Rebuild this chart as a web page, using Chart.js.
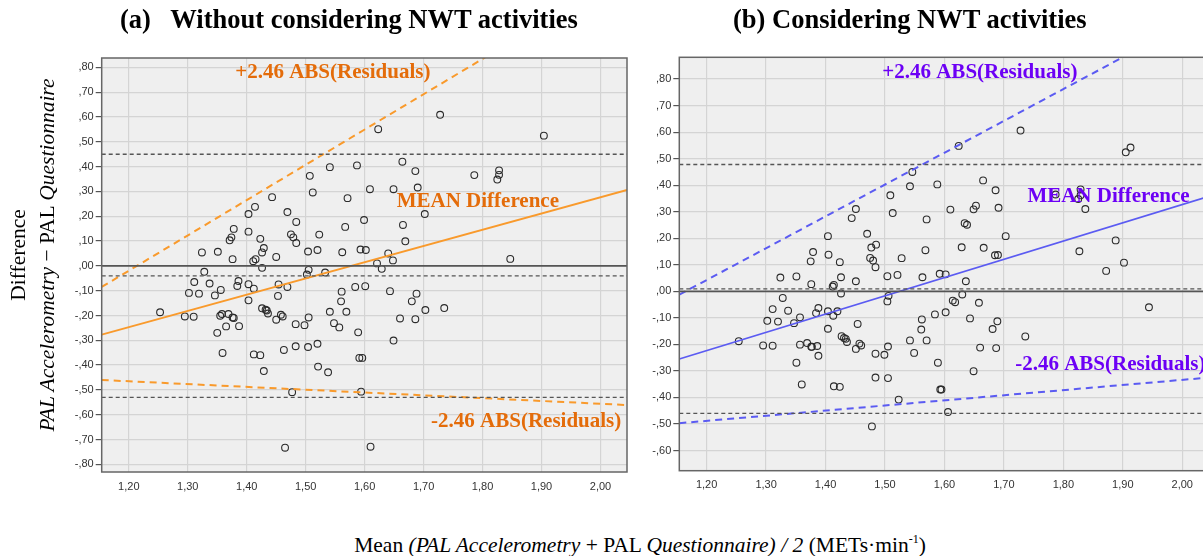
<!DOCTYPE html>
<html>
<head>
<meta charset="utf-8">
<script src="https://cdn.jsdelivr.net/npm/chart.js@4.4.0/dist/chart.umd.min.js"></script>
<style>
  html, body { margin: 0; padding: 0; background: #fff; }
  #page { position: relative; width: 1203px; height: 556px; overflow: hidden; font-family: "Liberation Serif", "Times New Roman", serif; color: #000; }
  .panel { position: absolute; top: 0; }
  .title { position: absolute; top: 4px; font-weight: bold; font-size: 26.5px; white-space: pre; }
  .ytitle { position: absolute; white-space: nowrap; transform: translate(-50%, -50%) rotate(-90deg); font-size: 21.5px; }
  .xtitle { position: absolute; left: 640px; top: 545px; transform: translate(-50%, -50%); white-space: nowrap; font-size: 21.5px; }
</style>
</head>
<body>
<div id="page">
  <div class="panel" style="left:0;width:640px;height:500px"><canvas id="chartA" width="640" height="500"></canvas></div>
  <div class="panel" style="left:640px;width:590px;height:500px"><canvas id="chartB" width="590" height="500"></canvas></div>
  <div class="title" style="left:120px">(a)   Without considering NWT activities</div>
  <div class="title" style="left:733px">(b) Considering NWT activities</div>
  <div class="ytitle" style="left:18px;top:255px">Difference</div>
  <div class="ytitle" style="left:47px;top:255px"><i>PAL Accelerometry</i> − PAL <i>Questionnaire</i></div>
  <div class="xtitle">Mean <i>(PAL Accelerometry</i> + PAL <i>Questionnaire) / 2</i> (METs·min<sup style="font-size:12px">-1</sup>)</div>
</div>
<script>
// (a) without NWT activities: mean of the two methods vs. their difference
const meanA = [1.324, 1.351, 1.328, 1.311, 1.337, 1.302, 1.319, 1.376, 1.371, 1.374, 1.378, 1.403, 1.414, 1.403, 1.423, 1.429, 1.426, 1.415, 1.411, 1.426,
  1.443, 1.450, 1.469, 1.475, 1.479, 1.484, 1.484, 1.507, 1.512, 1.504, 1.520, 1.523, 1.505, 1.502, 1.386, 1.384, 1.403, 1.412, 1.454, 1.469,
  1.453, 1.253, 1.295, 1.310, 1.346, 1.356, 1.355, 1.358, 1.369, 1.376, 1.378, 1.350, 1.365, 1.387, 1.359, 1.403, 1.412, 1.423, 1.429, 1.426,
  1.432, 1.434, 1.436, 1.450, 1.458, 1.461, 1.463, 1.483, 1.483, 1.498, 1.505, 1.504, 1.520, 1.521, 1.477, 1.465, 1.728, 1.623, 1.904, 1.541,
  1.587, 1.664, 1.686, 1.571, 1.609, 1.649, 1.690, 1.786, 1.828, 1.828, 1.825, 1.702, 1.599, 1.665, 1.567, 1.669, 1.562, 1.593, 1.602, 1.640,
  1.648, 1.621, 1.629, 1.847, 1.533, 1.561, 1.584, 1.601, 1.643, 1.688, 1.560, 1.680, 1.541, 1.569, 1.703, 1.735, 1.548, 1.557, 1.660, 1.686,
  1.589, 1.649, 1.591, 1.596, 1.538, 1.594, 1.610];
const diffA = [0.054, 0.057, -0.024, -0.065, -0.071, -0.109, -0.112, 0.027, 0.103, 0.115, 0.149, 0.209, 0.238, 0.138, 0.109, 0.072, 0.054, 0.027, 0.019, -0.008,
  0.277, 0.036, 0.217, 0.127, 0.115, 0.092, 0.177, 0.363, 0.296, 0.058, 0.064, 0.126, -0.016, -0.035, -0.061, -0.081, -0.074, -0.092, -0.075, -0.085,
  -0.121, -0.187, -0.204, -0.205, -0.119, -0.097, -0.201, -0.194, -0.194, -0.208, -0.210, -0.270, -0.244, -0.243, -0.351, -0.139, -0.357, -0.360, -0.424, -0.171,
  -0.177, -0.180, -0.192, -0.217, -0.197, -0.204, -0.339, -0.235, -0.324, -0.239, -0.208, -0.327, -0.314, -0.406, -0.509, -0.733, 0.609, 0.551, 0.525, 0.398,
  0.405, 0.420, 0.382, 0.273, 0.309, 0.309, 0.316, 0.366, 0.385, 0.367, 0.348, 0.209, 0.185, 0.165, 0.157, 0.099, 0.055, 0.066, 0.064, 0.050,
  0.022, 0.010, -0.012, 0.028, -0.027, -0.104, -0.085, -0.082, -0.102, -0.112, -0.143, -0.143, -0.185, -0.185, -0.178, -0.170, -0.231, -0.248, -0.212, -0.215,
  -0.268, -0.301, -0.371, -0.371, -0.429, -0.507, -0.729];

// (b) considering NWT activities
const meanB = [1.324, 1.351, 1.376, 1.375, 1.379, 1.404, 1.405, 1.424, 1.426, 1.414, 1.412, 1.426, 1.451, 1.444, 1.451, 1.470, 1.477, 1.485, 1.475, 1.480,
  1.484, 1.504, 1.509, 1.513, 1.521, 1.528, 1.506, 1.542, 1.546, 1.570, 1.568, 1.563, 1.588, 1.592, 1.624, 1.728, 1.905, 1.913, 1.665, 1.686,
  1.649, 1.653, 1.610, 1.691, 1.634, 1.638, 1.787, 1.829, 1.825, 1.829, 1.837, 1.703, 1.629, 1.666, 1.685, 1.690, 1.602, 1.636, 1.630, 1.827,
  1.888, 1.902, 1.872, 1.254, 1.295, 1.311, 1.302, 1.320, 1.311, 1.328, 1.337, 1.347, 1.357, 1.357, 1.351, 1.360, 1.369, 1.376, 1.377, 1.386,
  1.388, 1.384, 1.388, 1.404, 1.404, 1.413, 1.420, 1.414, 1.424, 1.427, 1.431, 1.434, 1.436, 1.451, 1.454, 1.457, 1.460, 1.484, 1.484, 1.478,
  1.499, 1.505, 1.505, 1.504, 1.523, 1.542, 1.549, 1.562, 1.561, 1.570, 1.584, 1.589, 1.593, 1.595, 1.614, 1.618, 1.658, 1.602, 1.643, 1.689,
  1.681, 1.736, 1.660, 1.687, 1.649, 1.606, 1.944];
const diffB = [0.052, 0.056, 0.027, 0.113, 0.148, 0.208, 0.138, 0.110, 0.053, 0.024, 0.018, -0.008, 0.038, 0.276, 0.310, 0.217, 0.165, 0.176, 0.126, 0.116,
  0.091, 0.057, 0.362, 0.295, 0.062, 0.125, -0.017, 0.396, 0.450, 0.271, 0.155, 0.053, 0.403, 0.066, 0.548, 0.606, 0.524, 0.542, 0.418, 0.381,
  0.309, 0.323, 0.308, 0.315, 0.257, 0.251, 0.365, 0.384, 0.348, 0.362, 0.310, 0.208, 0.166, 0.164, 0.136, 0.137, 0.064, 0.038, -0.012, 0.151,
  0.192, 0.108, 0.077, -0.188, -0.204, -0.205, -0.111, -0.114, -0.067, -0.025, -0.073, -0.120, -0.098, -0.201, -0.269, -0.351, -0.195, -0.209, -0.209, -0.206,
  -0.243, -0.082, -0.063, -0.075, -0.141, -0.092, -0.075, -0.358, -0.360, -0.169, -0.176, -0.179, -0.191, -0.217, -0.123, -0.197, -0.204, -0.235, -0.325, -0.509,
  -0.239, -0.208, -0.327, -0.038, -0.408, -0.185, -0.232, -0.106, -0.144, -0.185, -0.087, -0.269, -0.370, -0.370, -0.035, -0.041, -0.043, -0.079, -0.102, -0.113,
  -0.142, -0.170, -0.212, -0.214, -0.301, -0.455, -0.060];

// axis ticks
const xTicks = [1.2, 1.3, 1.4, 1.5, 1.6, 1.7, 1.8, 1.9, 2.0];
const yTicksA = [-0.8, -0.7, -0.6, -0.5, -0.4, -0.3, -0.2, -0.1, 0, 0.1, 0.2, 0.3, 0.4, 0.5, 0.6, 0.7, 0.8];
const yTicksB = [-0.6, -0.5, -0.4, -0.3, -0.2, -0.1, 0, 0.1, 0.2, 0.3, 0.4, 0.5, 0.6, 0.7, 0.8];
const xRange = [1.154, 2.045];

// fitted lines, values at both ends of xRange
const meanLineA = [-0.277, 0.306];
const upperLimitA = [-0.085, 1.183];
const lowerLimitA = [-0.460, -0.561];
const meanLineB = [-0.255, 0.358];
const upperLimitB = [-0.0125, 1.056];
const lowerLimitB = [-0.497, -0.325];

// horizontal reference lines (mean and ±1.96 SD of the differences)
const refLinesA = [0.45, -0.04, -0.53];
const refLinesB = [0.478, 0.009, -0.46];

const fmt = (v) => {
  let s = (Math.round(v * 100) / 100 + 0).toFixed(2);
  if (s.startsWith("-0.")) s = "-" + s.slice(2);
  else if (s.startsWith("0.")) s = s.slice(1);
  return s.replace(".", ",");
};

const panelBg = {
  id: "panelBg",
  beforeDraw(chart) {
    const { ctx, chartArea: a } = chart;
    ctx.save();
    ctx.fillStyle = "#efefef";
    ctx.fillRect(a.left, a.top, a.right - a.left, a.bottom - a.top);
    ctx.restore();
  },
  afterDraw(chart) {
    const { ctx, chartArea: a } = chart;
    ctx.save();
    ctx.strokeStyle = "#666";
    ctx.lineWidth = 1.5;
    ctx.strokeRect(a.left, a.top, a.right - a.left, a.bottom - a.top);
    ctx.restore();
  },
};

const textLabels = {
  id: "textLabels",
  afterDatasetsDraw(chart, args, opts) {
    const { ctx, scales } = chart;
    ctx.save();
    ctx.font = "bold 21px 'Liberation Serif', 'Times New Roman', serif";
    ctx.fillStyle = opts.color;
    ctx.textBaseline = "alphabetic";
    (opts.items || []).forEach((t) => {
      ctx.textAlign = t.align || "center";
      ctx.fillText(t.text, scales.x.getPixelForValue(t.x), scales.y.getPixelForValue(t.y));
    });
    ctx.restore();
  },
};

function lineSet(yEnds, color, width, dash) {
  return {
    type: "line",
    data: [{ x: xRange[0], y: yEnds[0] }, { x: xRange[1], y: yEnds[1] }],
    borderColor: color,
    borderWidth: width,
    borderDash: dash,
    pointRadius: 0,
    fill: false,
  };
}

function makeChart(id, p) {
  const points = p.mean.map((m, i) => ({ x: m, y: p.diff[i] }));
  const datasets = [
    lineSet([0, 0], "#555", 1.6, []),
    ...p.refs.map((r) => lineSet([r, r], "#555", 1.3, [4, 3])),
    lineSet(p.meanLine, p.lineColor, 1.8, []),
    lineSet(p.upper, p.lineColor, 2, [7, 5]),
    lineSet(p.lower, p.lineColor, 2, [7, 5]),
    {
      type: "scatter",
      data: points,
      pointRadius: 3.4,
      pointBorderWidth: 1.1,
      borderColor: "#2b2b2b",
      backgroundColor: "rgba(0,0,0,0)",
    },
  ];

  return new Chart(document.getElementById(id).getContext("2d"), {
    type: "scatter",
    data: { datasets },
    options: {
      responsive: false,
      animation: false,
      events: [],
      layout: { padding: p.padding },
      plugins: {
        legend: { display: false },
        tooltip: { enabled: false },
        textLabels: { color: p.textColor, items: p.labels },
      },
      scales: {
        x: {
          type: "linear",
          min: xRange[0],
          max: xRange[1],
          afterBuildTicks: (axis) => { axis.ticks = xTicks.map((v) => ({ value: v })); },
          afterFit: (scale) => { scale.height = 28; },
          ticks: { callback: fmt, color: "#333", font: { family: "'Liberation Sans', Arial", size: 11 }, padding: 3, maxRotation: 0 },
          grid: { color: "#d4d4d4", lineWidth: 1.2, tickLength: 5, tickColor: "rgba(0,0,0,0)" },
          border: { display: false },
        },
        y: {
          type: "linear",
          min: p.yRange[0],
          max: p.yRange[1],
          afterBuildTicks: (axis) => { axis.ticks = p.yTicks.map((v) => ({ value: v })); },
          afterFit: (scale) => { scale.width = 36; },
          ticks: { callback: fmt, color: "#333", font: { family: "'Liberation Sans', Arial", size: 11 }, padding: 2 },
          grid: { color: "#d4d4d4", lineWidth: 1.2, tickLength: 6, tickColor: "#555" },
          border: { display: false },
        },
      },
    },
    plugins: [panelBg, textLabels],
  });
}

makeChart("chartA", {
  mean: meanA,
  diff: diffA,
  refs: refLinesA,
  meanLine: meanLineA,
  upper: upperLimitA,
  lower: lowerLimitA,
  yRange: [-0.831, 0.838],
  yTicks: yTicksA,
  padding: { left: 65.7, right: 13, top: 58, bottom: 0 },
  lineColor: "#f99a2c",
  textColor: "#e46c0a",
  labels: [
    { text: "+2.46 ABS(Residuals)", x: 1.546, y: 0.756 },
    { text: "MEAN Difference", x: 1.792, y: 0.239 },
    { text: "-2.46 ABS(Residuals)", x: 1.874, y: -0.649 },
  ],
});

makeChart("chartB", {
  mean: meanB,
  diff: diffB,
  refs: refLinesB,
  meanLine: meanLineB,
  upper: upperLimitB,
  lower: lowerLimitB,
  yRange: [-0.676, 0.882],
  yTicks: yTicksB,
  padding: { left: 3.3, right: 21, top: 57.3, bottom: 1.3 },
  lineColor: "#5b5bf2",
  textColor: "#6c00f5",
  labels: [
    { text: "+2.46 ABS(Residuals)", x: 1.6595, y: 0.805 },
    { text: "MEAN Difference", x: 1.876, y: 0.336 },
    { text: "-2.46 ABS(Residuals)", x: 1.719, y: -0.297, align: "left" },
  ],
});
</script>
</body>
</html>
